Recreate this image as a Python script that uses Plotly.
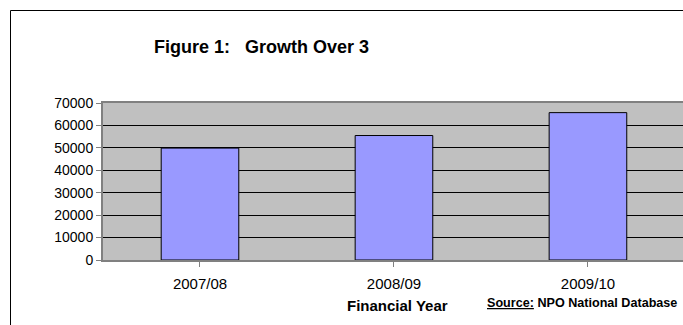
import plotly.graph_objects as go

# Registered NPOs per financial year
years = ["2007/08", "2008/09", "2009/10"]
npo_counts = [49900, 55500, 65700]
y_ticks = [0, 10000, 20000, 30000, 40000, 50000, 60000, 70000]

W, H = 683, 325
L, R, T, B = 103, 0, 103, 65
pw, ph = W - L - R, H - T - B


def px_x(x):
    return (x - L) / pw


def px_y(y):
    return (H - B - y) / ph


fig = go.Figure(
    go.Bar(
        x=list(range(len(years))),
        y=npo_counts,
        width=0.4,
        marker=dict(color="#9999FF", line=dict(color="#000000", width=1)),
    )
)

frame = dict(color="#000000", width=1)

fig.update_layout(
    width=W,
    height=H,
    margin=dict(l=L, r=R, t=T, b=B),
    paper_bgcolor="white",
    plot_bgcolor="#C0C0C0",
    showlegend=False,
    font=dict(family="Liberation Sans, Arial, sans-serif", color="black"),
    shapes=[
        # outer chart frame: left and top edges
        dict(type="line", xref="paper", yref="paper",
             x0=px_x(10.5), x1=px_x(10.5), y0=px_y(330), y1=px_y(10.5),
             line=frame, layer="below"),
        dict(type="line", xref="paper", yref="paper",
             x0=px_x(10.5), x1=px_x(690), y0=px_y(10.5), y1=px_y(10.5),
             line=frame, layer="below"),
    ],
    annotations=[
        dict(
            text="<b>Figure 1:   Growth Over 3</b>",
            x=px_x(261), y=px_y(47), xref="paper", yref="paper",
            xanchor="center", yanchor="middle", showarrow=False,
            font=dict(size=18),
        ),
        dict(
            text="<b>Financial Year</b>",
            x=px_x(397), y=px_y(305), xref="paper", yref="paper",
            xanchor="center", yanchor="middle", showarrow=False,
            font=dict(size=15),
        ),
        dict(
            text="<b><u>Source:</u> NPO National Database</b>",
            x=px_x(485), y=px_y(303), xref="paper", yref="paper",
            xanchor="left", yanchor="middle", showarrow=False,
            font=dict(size=12.6),
        ),
    ],
)

fig.update_xaxes(
    range=[-0.5, 2.49],
    tickmode="array",
    tickvals=list(range(len(years))),
    ticktext=years,
    tickson="boundaries",
    ticks="outside",
    ticklen=5,
    tickcolor="#808080",
    tickfont=dict(size=15),
    ticklabelstandoff=4,
    showgrid=False,
    showline=True,
    linecolor="#808080",
    linewidth=2,
    mirror=True,
    zeroline=False,
    fixedrange=True,
)

fig.update_yaxes(
    range=[0, 70000],
    tickmode="array",
    tickvals=y_ticks,
    ticktext=[str(v) for v in y_ticks],
    ticks="outside",
    ticklen=5,
    tickcolor="#808080",
    tickfont=dict(size=14),
    showgrid=True,
    gridcolor="#000000",
    gridwidth=1,
    showline=True,
    linecolor="#808080",
    linewidth=2,
    zeroline=False,
    fixedrange=True,
)

fig.write_html("out.html", config={"displayModeBar": False})
